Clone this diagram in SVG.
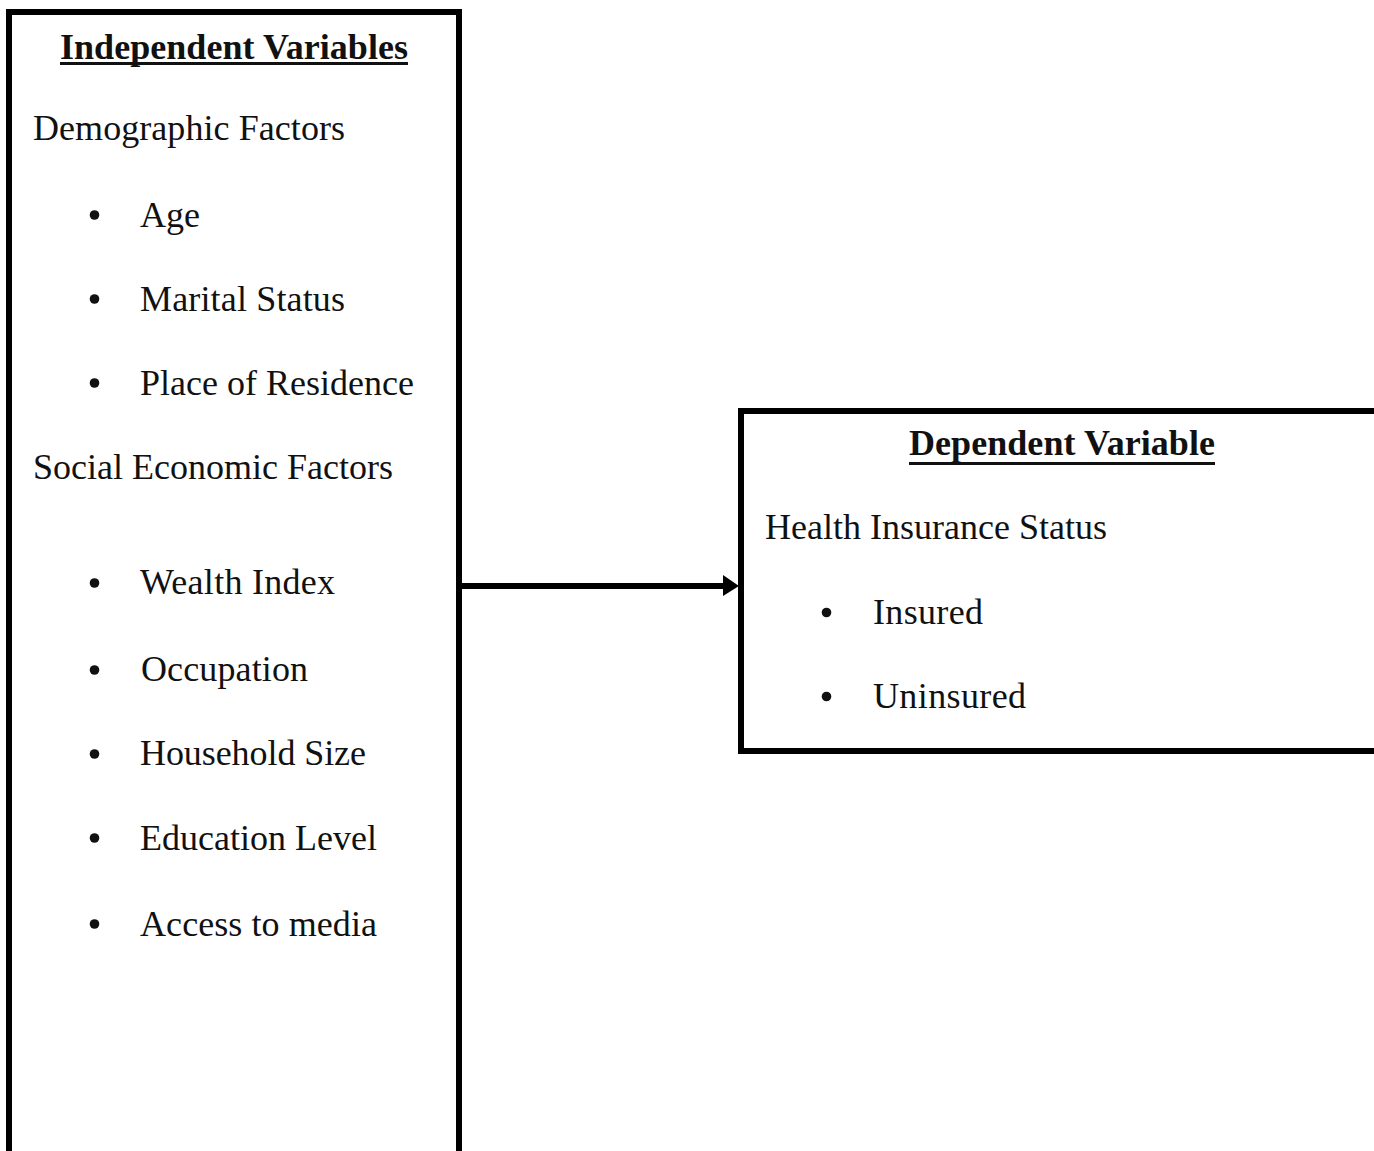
<svg xmlns="http://www.w3.org/2000/svg" width="1374" height="1151" viewBox="0 0 1374 1151">
<style>
.box{fill:none;stroke:#000;stroke-width:6}
.t{font-family:"Liberation Serif","Times New Roman",serif;font-size:36px;fill:#111}
.h{font-weight:bold}
.ul{stroke:#111;stroke-width:3}
.b{fill:#111}
.c{stroke:#000;stroke-width:6;fill:none}
</style>
<rect width="1374" height="1151" fill="#fff"/>
<g id="independent">
<rect class="box" x="9" y="12" width="450" height="1160"/>
<text class="t h" x="60" y="59" textLength="348">Independent Variables</text>
<line class="ul" x1="60" y1="63.5" x2="408" y2="63.5"/>
<text class="t" x="33" y="140" textLength="312">Demographic Factors</text>
<circle class="b" cx="94.5" cy="215" r="4.8"/>
<text class="t" x="140" y="227" textLength="60">Age</text>
<circle class="b" cx="94.5" cy="299" r="4.8"/>
<text class="t" x="140" y="311" textLength="205">Marital Status</text>
<circle class="b" cx="94.5" cy="383" r="4.8"/>
<text class="t" x="140" y="394.5" textLength="274">Place of Residence</text>
<text class="t" x="33" y="479" textLength="360">Social Economic Factors</text>
<circle class="b" cx="94.5" cy="583" r="4.8"/>
<text class="t" x="140" y="594" textLength="195">Wealth Index</text>
<circle class="b" cx="94.5" cy="670" r="4.8"/>
<text class="t" x="141" y="681" textLength="167">Occupation</text>
<circle class="b" cx="94.5" cy="754" r="4.8"/>
<text class="t" x="140" y="765" textLength="226">Household Size</text>
<circle class="b" cx="94.5" cy="838" r="4.8"/>
<text class="t" x="140" y="849.5" textLength="237">Education Level</text>
<circle class="b" cx="94.5" cy="924" r="4.8"/>
<text class="t" x="140" y="936" textLength="237">Access to media</text>
</g>
<g id="dependent">
<rect class="box" x="741" y="411" width="660" height="340"/>
<text class="t h" x="909" y="455" textLength="306">Dependent Variable</text>
<line class="ul" x1="909" y1="463.5" x2="1215" y2="463.5"/>
<text class="t" x="765" y="539" textLength="342">Health Insurance Status</text>
<circle class="b" cx="826.5" cy="612.5" r="4.8"/>
<text class="t" x="873" y="624" textLength="110">Insured</text>
<circle class="b" cx="826.5" cy="696.5" r="4.8"/>
<text class="t" x="873" y="708" textLength="153">Uninsured</text>
</g>
<g id="connectors">
<line class="c" x1="459" y1="586" x2="726" y2="586"/>
<polygon points="723,575 739,586 723,596" fill="#000"/>
</g>
</svg>
